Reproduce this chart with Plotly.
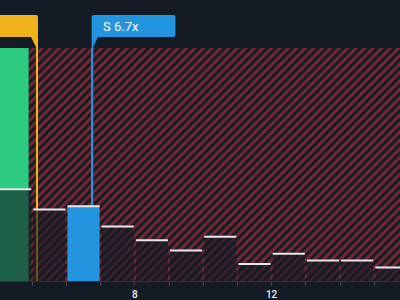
import plotly.graph_objects as go

# ---- data ----
bin_starts = [4, 5, 6, 7, 8, 9, 10, 11, 12, 13, 14, 15]
counts = [27, 21, 22, 16, 12, 9, 13, 5, 8, 6, 6, 4]
bin_width = 1.0
s_value = 6.76
s_label = "S 6.7x"
industry_value = 5.14
zone_split = 4.9
x_range = [4.058, 15.754]
y_max = 68.5

BG = "#151b25"
GREEN = "#2ecc80"
BLUE = "#2394e0"
YELLOW = "#efb31c"
RED = "#d6363f"

fig = go.Figure()

# green (below split) zone
fig.add_shape(type="rect", xref="x", yref="y", x0=x_range[0] - 1, x1=zone_split,
              y0=0, y1=y_max, fillcolor=GREEN, line_width=0, layer="below")

# red hatched zone (as a bar so the histogram bars can sit on top of it)
hatch_right = x_range[1] + 1
fig.add_trace(go.Bar(
    x=[(zone_split + hatch_right) / 2], y=[y_max], width=[hatch_right - zone_split],
    marker=dict(color=BG, line_width=0,
                pattern=dict(shape="/", fgcolor=RED, bgcolor=BG, size=6, solidity=0.48)),
    hoverinfo="skip", showlegend=False))

# vertical marker lines (thin bars, drawn below the histogram bars)
px_per_unit = 400 / (x_range[1] - x_range[0])
fig.add_trace(go.Bar(x=[industry_value], y=[y_max], width=[2 / px_per_unit],
                     marker=dict(color=YELLOW, line_width=0), hoverinfo="skip", showlegend=False))
fig.add_trace(go.Bar(x=[s_value], y=[y_max], width=[1.5 / px_per_unit],
                     marker=dict(color=BLUE, line_width=0), hoverinfo="skip", showlegend=False))

centers = [b + bin_width / 2 for b in bin_starts]
colors = [BLUE if (b <= s_value < b + bin_width) else "rgba(21,27,37,0.62)" for b in bin_starts]
fig.add_trace(go.Bar(x=centers, y=counts, width=0.94, marker=dict(color=colors, line_width=0),
                     hoverinfo="skip", showlegend=False))

# white bar tops
tx, ty = [], []
for c, v in zip(centers, counts):
    tx += [c - 0.47, c + 0.47, None]
    ty += [v, v, None]
fig.add_trace(go.Scatter(x=tx, y=ty, mode="lines", line=dict(color="#e8e8ea", width=2),
                         hoverinfo="skip", showlegend=False))

# label boxes
fig.add_shape(type="path", xref="x", yref="paper", xsizemode="pixel", ysizemode="pixel",
              xanchor=s_value, yanchor=1,
              path="M -0.75 0 L -0.75 31 Q -0.75 33 1.25 33 L 81 33 Q 83 33 83 31 L 83 13 Q 83 11 81 11 L 5.5 11 L 0.75 1 L 0.75 0 Z",
              fillcolor=BLUE, line_width=0, layer="above")
fig.add_shape(type="path", xref="x", yref="paper", xsizemode="pixel", ysizemode="pixel",
              xanchor=industry_value, yanchor=1,
              path="M -300 11 L -300 33 L -1 33 Q 1 33 1 31 L 1 0 L -1 0 L -1 1 L -6 11 Z",
              fillcolor=YELLOW, line_width=0, layer="above")
fig.add_annotation(x=s_value, xref="x", y=1, yref="paper", yshift=22, xshift=9,
                   text=s_label, showarrow=False, xanchor="left", yanchor="middle",
                   font=dict(family="Roboto", size=13, color="white"))

fig.update_layout(
    width=400, height=300, margin=dict(l=0, r=0, t=48, b=19),
    paper_bgcolor=BG, plot_bgcolor=BG, barmode="overlay",
    xaxis=dict(range=x_range, showgrid=False, zeroline=False, showline=True,
               linecolor="#2c333d", linewidth=1, automargin=False,
               tick0=0, dtick=4, ticks="outside", ticklen=4, tickcolor="#3d4550",
               ticklabelstandoff=0,
               tickfont=dict(family="Roboto", size=10, color="#eef0f2", weight=500),
               minor=dict(dtick=1, ticks="outside", ticklen=4, tickcolor="#3d4550")),
    yaxis=dict(range=[0, y_max], visible=False, showgrid=False),
)

fig.write_html("out.html")
